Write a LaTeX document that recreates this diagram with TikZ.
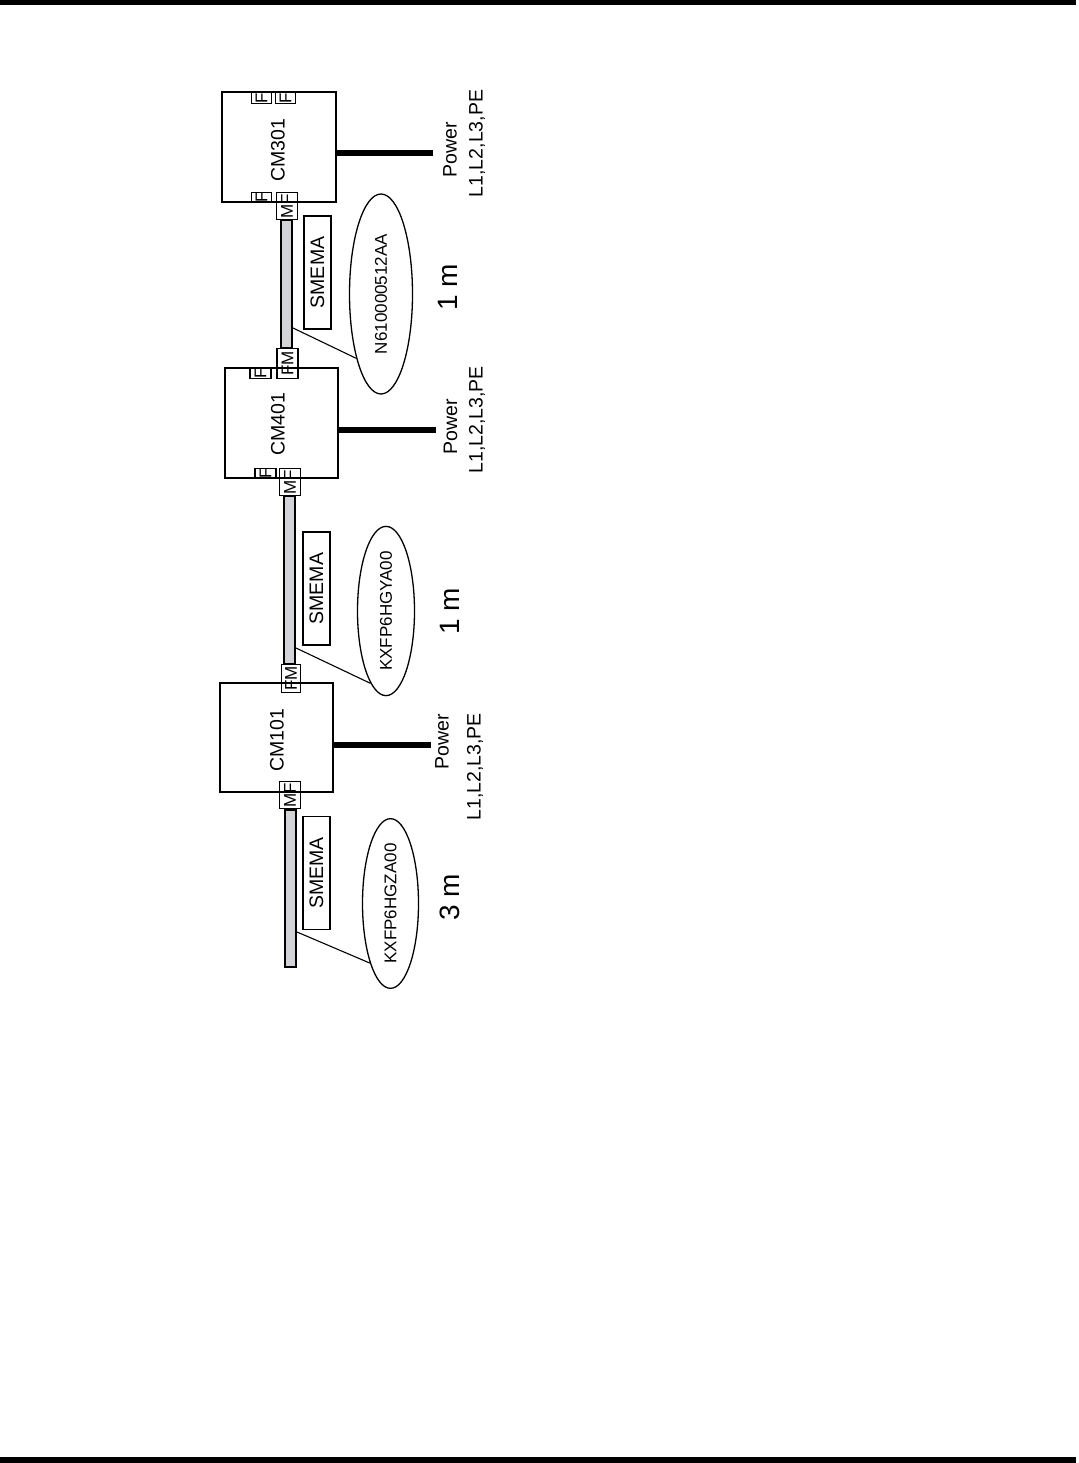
\documentclass[tikz,border=0pt]{standalone}
\usepackage{fontspec}
\setmainfont{Liberation Sans}
\usepackage{graphicx}
\usetikzlibrary{shapes.geometric}
\definecolor{cablegray}{RGB}{210,211,215}
\begin{document}
\begin{tikzpicture}[x=1pt,y=-1pt,
  cmbox/.style={draw, line width=2pt, inner sep=0pt},
  cmlabel/.style={rotate=90, font=\fontsize{19.5}{22}\selectfont, inner sep=0pt},
  conbox/.style={draw, line width=1.6pt, inner sep=0pt, rotate=90, font=\fontsize{17}{18}\selectfont},
  cable/.style={draw, line width=2pt, fill=cablegray, inner sep=0pt},
  smema/.style={draw, line width=1.7pt, inner sep=0pt, rotate=90, minimum width=113pt, minimum height=27pt, font=\fontsize{19.5}{22}\selectfont},
  ell/.style={ellipse, draw, line width=1.3pt, inner sep=0pt, font=\fontsize{17}{20}\selectfont},
  leader/.style={line width=1.1pt},
  powerline/.style={line width=6pt},
  pwtext/.style={rotate=90, inner sep=0pt, font=\fontsize{19.5}{22}\selectfont},
  lentext/.style={rotate=90, inner sep=0pt, font=\fontsize{28}{32}\selectfont}
]
\useasboundingbox (0,0) rectangle (1078,1463);
\fill (0,0) rectangle (1076,5.5);
\fill (0,1456.5) rectangle (1076,1462.5);

% machine boxes
\node[cmbox, minimum width=114pt, minimum height=110pt] (cm301) at (279,147) {};
\node[cmbox, minimum width=113pt, minimum height=110pt] (cm401) at (281.5,423) {};
\node[cmbox, minimum width=113pt, minimum height=109pt] (cm101) at (276.5,737.5) {};
\node[cmlabel] (l301) at (278,150) {CM301};
\node[cmlabel] (l401) at (278,424) {CM401};
\node[cmlabel] (l101) at (277,740) {CM101};

% connector boxes
\node[conbox, minimum width=11pt, minimum height=20pt] (c301a) at (261.5,98) {F};
\node[conbox, minimum width=11pt, minimum height=20pt] (c301b) at (285.5,98) {F};
\node[conbox, minimum width=10pt, minimum height=20pt] (c301c) at (261.5,197.5) {F};
\node[conbox, minimum width=27pt, minimum height=21pt] (c301d) at (287,206) {MF};
\node[conbox, minimum width=11pt, minimum height=21pt] (c401a) at (260.5,373) {F};
\node[conbox, minimum width=30pt, minimum height=21pt] (c401b) at (287.5,363.5) {FM};
\node[conbox, minimum width=10pt, minimum height=21pt] (c401c) at (265.5,473.5) {F};
\node[conbox, minimum width=27pt, minimum height=21pt] (c401d) at (290,482) {MF};
\node[conbox, minimum width=28pt, minimum height=19pt] (c101a) at (291,678.5) {FM};
\node[conbox, minimum width=27pt, minimum height=21pt] (c101b) at (290,795) {MF};

% cables
\node[cable, minimum width=11pt, minimum height=128pt] (cab1) at (286.5,284) {};
\node[cable, minimum width=11pt, minimum height=168pt] (cab2) at (289.5,580) {};
\node[cable, minimum width=11pt, minimum height=157pt] (cab3) at (290.5,888.5) {};

% SMEMA labels
\node[smema] (s1) at (317.5,272.5) {SMEMA};
\node[smema] (s2) at (316.5,588.5) {SMEMA};
\node[smema] (s3) at (316.5,873) {SMEMA};

% part number ellipses
\node[ell, minimum width=63pt, minimum height=200pt] (e1) at (381,294) {\rotatebox{90}{N610000512AA}};
\node[ell, minimum width=57pt, minimum height=142pt] (e2) at (386,611) {\rotatebox{90}{KXFP6HGYA00}};
\node[ell, minimum width=56pt, minimum height=142pt] (e3) at (390.5,903.5) {\rotatebox{90}{KXFP6HGZA00}};
\draw[leader] ([yshift=-44pt]cab1.east) -- (e1.249);
\draw[leader] ([yshift=-68pt]cab2.east) -- (e2.258);
\draw[leader] ([yshift=-43.5pt]cab3.east) -- (e3.251);

% lengths
\node[lentext] (m1) at (448,287) {1 m};
\node[lentext] (m2) at (450,611) {1 m};
\node[lentext] (m3) at (450,897) {3 m};

% power
\coordinate (p301) at (433,153);
\coordinate (p401) at (436,430);
\coordinate (p101) at (431,745);
\draw[powerline] (cm301.east |- p301) -- (p301);
\draw[powerline] (cm401.east |- p401) -- (p401);
\draw[powerline] (cm101.east |- p101) -- (p101);
\node[pwtext] (pw301) at (450,150) {Power};
\node[pwtext] (pl301) at (477,143.5) {L1,L2,L3,PE};
\node[pwtext] (pw401) at (450.5,426.5) {Power};
\node[pwtext] (pl401) at (477,420) {L1,L2,L3,PE};
\node[pwtext] (pw101) at (442,741.5) {Power};
\node[pwtext] (pl101) at (475,767) {L1,L2,L3,PE};
\end{tikzpicture}
\end{document}
